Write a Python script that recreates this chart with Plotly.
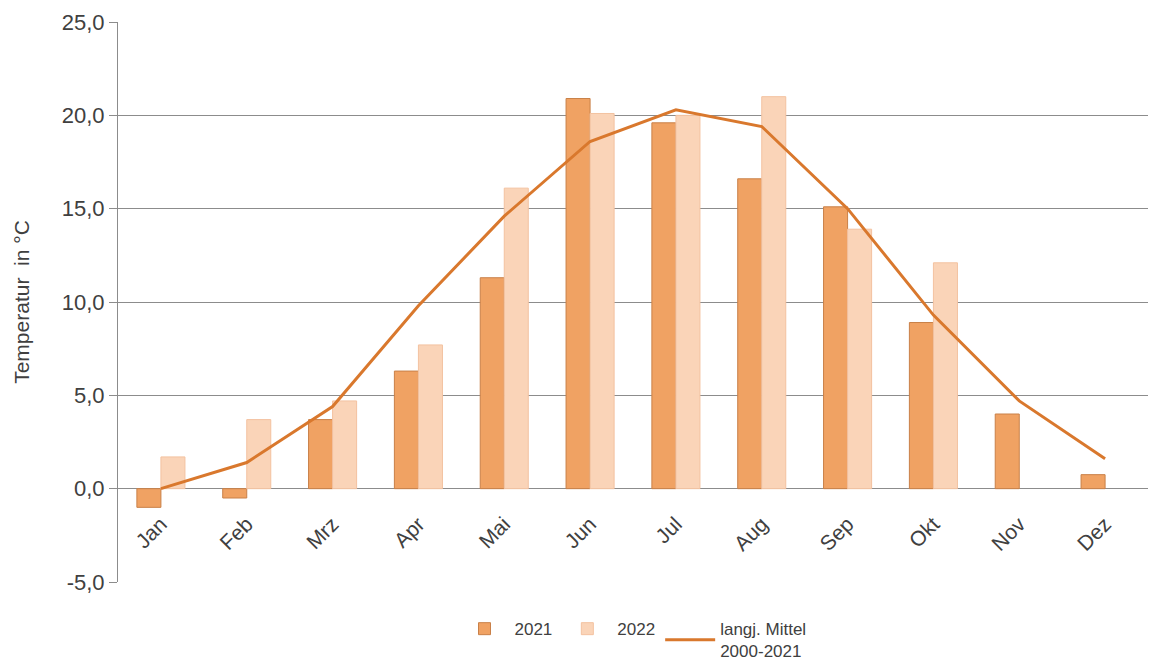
import plotly.graph_objects as go

months = ["Jan", "Feb", "Mrz", "Apr", "Mai", "Jun", "Jul", "Aug", "Sep", "Okt", "Nov", "Dez"]
t2021 = [-1.0, -0.5, 3.7, 6.3, 11.3, 20.9, 19.6, 16.6, 15.1, 8.9, 4.0, 0.75]
t2022 = [1.7, 3.7, 4.7, 7.7, 16.1, 20.1, 20.0, 21.0, 13.9, 12.1, None, None]
mittel = [0.0, 1.4, 4.4, 9.8, 14.6, 18.6, 20.3, 19.4, 15.0, 9.3, 4.7, 1.6]
ytick_vals = [-5, 0, 5, 10, 15, 20, 25]
ytick_text = ["-5,0", "0,0", "5,0", "10,0", "15,0", "20,0", "25,0"]

font_family = "Liberation Sans, Arial, sans-serif"

fig = go.Figure()
fig.add_trace(go.Bar(x=months, y=t2021, name="2021",
                     marker=dict(color="#F0A263", line=dict(color="#C98048", width=1))))
fig.add_trace(go.Bar(x=months, y=t2022, name="2022",
                     marker=dict(color="#FAD4B8", line=dict(color="#F3C2A0", width=1))))
fig.add_trace(go.Scatter(x=months, y=mittel, name="langj. Mittel<br>2000-2021", mode="lines",
                         line=dict(color="#D9782D", width=3)))

fig.update_layout(
    width=1151, height=668,
    margin=dict(l=118, r=3, t=22, b=86, autoexpand=False),
    plot_bgcolor="white", paper_bgcolor="white",
    font=dict(family=font_family, size=21, color="#404040"),
    barmode="group", bargap=0.44, bargroupgap=0.0,
    showlegend=True,
    legend=dict(orientation="h", x=0.5, xanchor="center", y=-0.052, yanchor="top",
                font=dict(size=17, color="#404040"), itemwidth=50, traceorder="normal"),
    xaxis=dict(anchor="free", position=1/6, tickangle=-45, showgrid=False,
               showline=False, ticks="outside", ticklen=14, tickcolor="rgba(0,0,0,0)",
               tickfont=dict(size=21, color="#404040")),
    yaxis=dict(range=[-5, 25], tickmode="array", tickvals=ytick_vals, ticktext=ytick_text,
               showgrid=True, gridcolor="#8C8C8C", gridwidth=1, showline=True, linecolor="#8C8C8C",
               ticks="outside", ticklen=8, tickcolor="#8C8C8C", zeroline=False,
               title=dict(text="Temperatur  in °C", font=dict(size=21, color="#404040"), standoff=26),
               tickfont=dict(size=22, color="#404040")),
)

fig.write_html("out.html")
